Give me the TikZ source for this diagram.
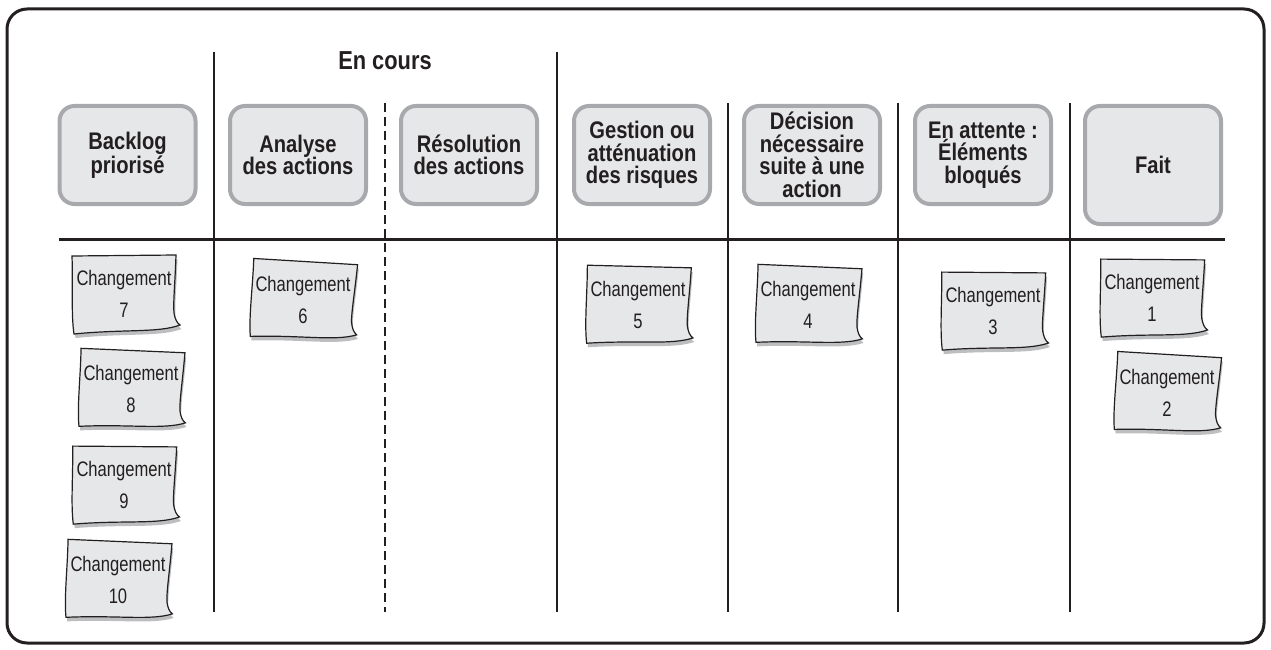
\documentclass[tikz,border=0pt]{standalone}
\usepackage{fontspec}
\setmainfont{Liberation Sans}
\newfontfamily\headfont[FakeStretch=0.84]{Liberation Sans}
\newfontfamily\notefont[FakeStretch=0.79]{Liberation Sans}

\definecolor{ink}{HTML}{231F20}
\definecolor{boxfill}{HTML}{E6E7E8}
\definecolor{boxedge}{HTML}{A7A9AC}
\definecolor{paper}{HTML}{E6E7E8}
\definecolor{papershade}{HTML}{BCBEC0}

% outline of a sticky note with a curled lower right corner (y grows downwards)
\newcommand\notepath{(-52,-38) -- (52,-39)
  .. controls (51,-10) and (49,10) .. (50,19)
  .. controls (51,25) and (53,29) .. (56,31)
  .. controls (35,39) and (0,35) .. (-50,40)
  .. controls (-53,20) and (-51,-10) .. (-52,-38) -- cycle}

% #1 name, #2 x, #3 y, #4 number, #5 tilt
\newcommand\changenote[5]{%
  \begin{scope}[shift={(#2,#3)}, rotate=#5]
    \fill[papershade, shift={(1.5,4)}] \notepath;
    \filldraw[fill=paper, draw=ink, line width=1.2pt] \notepath;
  \end{scope}
  \node[notetext] (#1) at (#2,#3) {Changement\\#4};
}

\begin{document}
\begin{tikzpicture}[x=1pt, y=-1pt,
  header/.style={draw=boxedge, line width=4pt, fill=boxfill, rounded corners=15pt,
    minimum width=136pt, minimum height=98pt, inner sep=0pt, align=center,
    text=ink, font=\headfont\bfseries\fontsize{24}{22.5}\selectfont},
  title/.style={text=ink, font=\headfont\bfseries\fontsize{26}{28}\selectfont},
  notetext/.style={align=center, inner sep=0pt, text=ink,
    font=\notefont\fontsize{21}{32}\selectfont},
  divider/.style={draw=ink, line width=2.4pt},
  board/.style={draw=ink, line width=3pt, rounded corners=20pt}]

\useasboundingbox (0,0) rectangle (1271,650);

% board outline
\draw[board] (7,9) rectangle (1264,643);

% column dividers
\coordinate (d1t) at (214,52);   \coordinate (d1b) at (214,612);
\coordinate (d2t) at (385,103);  \coordinate (d2b) at (385,612);
\coordinate (d3t) at (557,52);   \coordinate (d3b) at (557,612);
\coordinate (d4t) at (728,103);  \coordinate (d4b) at (728,612);
\coordinate (d5t) at (898,103);  \coordinate (d5b) at (898,612);
\coordinate (d6t) at (1070,103); \coordinate (d6b) at (1070,612);
\draw[divider] (d1t) -- (d1b);
\draw[divider, dash pattern=on 9pt off 5pt] (d2t) -- (d2b);
\draw[divider] (d3t) -- (d3b);
\draw[divider] (d4t) -- (d4b);
\draw[divider] (d5t) -- (d5b);
\draw[divider] (d6t) -- (d6b);

% header rule
\coordinate (hl) at (59,239);
\coordinate (hr) at (1225,239);
\draw[divider, line width=3pt] (hl) -- (hr);

% group title
\node[title] (encours) at (385,61) {En cours};

% column headers
\node[header] (backlog)    at (127.5,155) {Backlog\\priorisé};
\node[header] (analyse)    at (298,155)   {Analyse\\des actions};
\node[header] (resolution) at (469,155)   {Résolution\\des actions};
\node[header] (gestion)    at (642,155)   {Gestion ou\\atténuation\\des risques};
\node[header] (decision)   at (812,155)   {Décision\\nécessaire\\suite à une\\action};
\node[header] (attente)    at (983,155)   {En attente :\\Éléments\\bloqués};
\node[header, minimum height=118pt] (fait) at (1153,165) {Fait};

% cards
\changenote{c7}{124}{294}{7}{0}
\changenote{c8}{131}{389}{8}{-3}
\changenote{c9}{124}{485}{9}{-1}
\changenote{c10}{118}{580}{10}{-3}
\changenote{c6}{303}{300}{6}{-4}
\changenote{c5}{638}{305}{5}{-2}
\changenote{c4}{808}{305}{4}{-3}
\changenote{c3}{993}{311}{3}{-1}
\changenote{c1}{1152}{298}{1}{-1}
\changenote{c2}{1167}{393}{2}{-4}

\end{tikzpicture}
\end{document}
